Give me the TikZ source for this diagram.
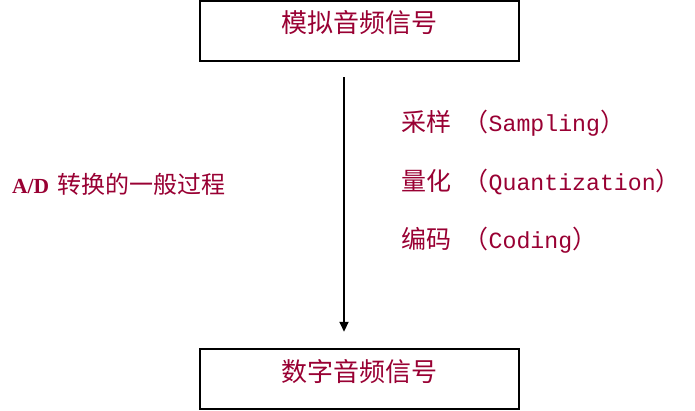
\documentclass[tikz,border=0pt]{standalone}
\usepackage{fontspec}
\setmainfont{Liberation Serif}
\setmonofont{Liberation Mono}
\newfontfamily\cjk{Noto Sans CJK SC}
\usetikzlibrary{arrows.meta}
\definecolor{txtred}{RGB}{153,0,51}
\begin{document}
\begin{tikzpicture}[x=1pt,y=-1pt,
  sigbox/.style={draw=black,line width=2.5pt,minimum width=319pt,inner xsep=0pt,inner ysep=0pt,
    text height=32pt,text depth=28pt,text=txtred,font=\cjk\fontsize{26}{30}\selectfont},
  steplabel/.style={anchor=base west,inner sep=0pt,text=txtred},
  stepcjk/.style={font=\cjk\fontsize{25}{30}\selectfont},
  flow/.style={line width=2.2pt,-{Triangle[length=10pt,width=9pt]}}]
\useasboundingbox (0,0) rectangle (695,411);
\fill[white] (0,0) rectangle (695,411);
\node[sigbox] (top) at (359.5,31) {模拟音频信号};
\node[sigbox] (bot) at (359.5,379) {数字音频信号};
\draw[flow] ([xshift=-15.5pt,yshift=-15pt]top.south) -- ([xshift=-15.5pt,yshift=16pt]bot.north);
\node[steplabel,stepcjk] (s1) at (401,132) {采样\hspace{0.5em}（{\ttfamily\fontsize{23.2}{30}\selectfont Sampling}）};
\node[steplabel,stepcjk] (s2) at (401,191) {量化\hspace{0.5em}（{\ttfamily\fontsize{23.2}{30}\selectfont Quantization}）};
\node[steplabel,stepcjk] (s3) at (401,249) {编码\hspace{0.5em}（{\ttfamily\fontsize{23.2}{30}\selectfont Coding}）};
\node[steplabel] (ad) at (12,194) {{\bfseries\fontsize{21.5}{24}\selectfont A/D}\hspace{8pt}{\cjk\fontsize{24}{26}\selectfont 转换的一般过程}};
\end{tikzpicture}
\end{document}
